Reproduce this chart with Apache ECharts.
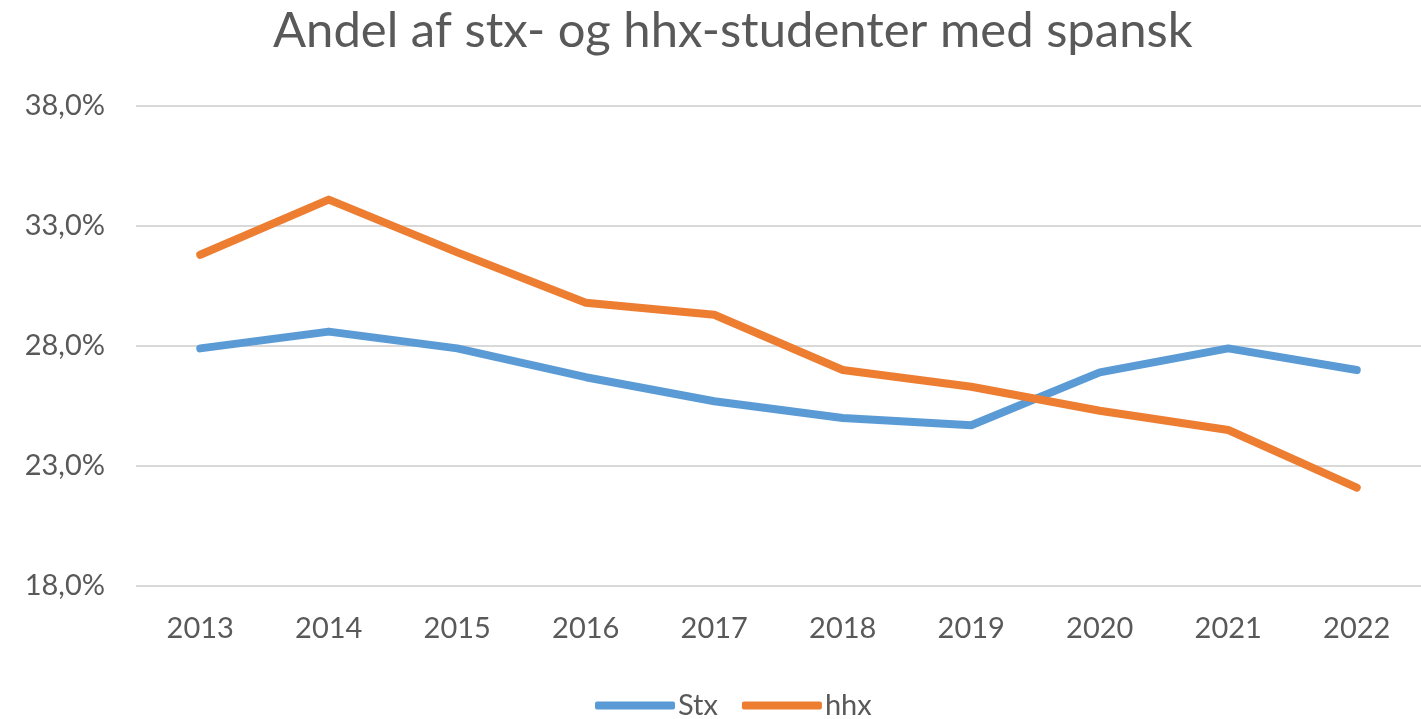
<!DOCTYPE html>
<html>
  <head>
    <meta charset="utf-8" />
    <title>Andel af stx- og hhx-studenter med spansk</title>
    <script src="https://cdn.jsdelivr.net/npm/echarts@6/dist/echarts.min.js"></script>
    <style>
      html, body { margin: 0; padding: 0; background: #fff; }
    </style>
  </head>
  <body>
    <div id="main" style="width: 1421px; height: 719px"></div>
    <script>
      // data (percent)
      var years = ["2013", "2014", "2015", "2016", "2017", "2018", "2019", "2020", "2021", "2022"];
      var stx = [27.9, 28.6, 27.9, 26.7, 25.7, 25.0, 24.7, 26.9, 27.9, 27.0];
      var hhx = [31.8, 34.1, 31.9, 29.8, 29.3, 27.0, 26.3, 25.3, 24.5, 22.1];
      var yTicks = [18, 23, 28, 33, 38];

      var textColor = "#595959";
      var font = "Lato, 'Open Sans', sans-serif";

      var myChart = echarts.init(document.getElementById("main"));

      var option = {
        backgroundColor: "#ffffff",
        animation: false,
        title: {
          text: "Andel af stx- og hhx-studenter med spansk",
          left: 268,
          top: 2,
          textStyle: {
            color: textColor,
            fontFamily: font,
            fontSize: 49,
            fontWeight: "normal",
          },
        },
        legend: {
          bottom: -6,
          left: 590,
          itemWidth: 80,
          itemHeight: 8,
          itemGap: 24,
          icon: "roundRect",
          textStyle: { color: textColor, fontFamily: font, fontSize: 29, padding: [0, 0, 0, -2] },
          data: ["Stx", "hhx"],
        },
        grid: {
          left: 136,
          right: 0,
          top: 106,
          bottom: 133,
        },
        xAxis: {
          type: "category",
          data: years,
          boundaryGap: true,
          axisLine: { show: false },
          axisTick: { show: false },
          axisLabel: {
            color: textColor,
            fontFamily: font,
            fontSize: 29,
            margin: 28,
          },
        },
        yAxis: {
          type: "value",
          min: yTicks[0],
          max: yTicks[yTicks.length - 1],
          interval: yTicks[1] - yTicks[0],
          axisLine: { show: false },
          axisTick: { show: false },
          splitLine: { lineStyle: { color: "#d9d9d9", width: 2 } },
          axisLabel: {
            color: textColor,
            fontFamily: font,
            fontSize: 29,
            margin: 31,
            formatter: function (v) {
              return v.toFixed(1).replace(".", ",") + "%";
            },
          },
        },
        series: [
          {
            name: "Stx",
            type: "line",
            data: stx,
            symbol: "none",
            color: "#5b9bd5",
            lineStyle: { width: 8, cap: "round", join: "round" },
          },
          {
            name: "hhx",
            type: "line",
            data: hhx,
            symbol: "none",
            color: "#ed7d31",
            lineStyle: { width: 8, cap: "round", join: "round" },
          },
        ],
      };

      myChart.setOption(option);
    </script>
  </body>
</html>
